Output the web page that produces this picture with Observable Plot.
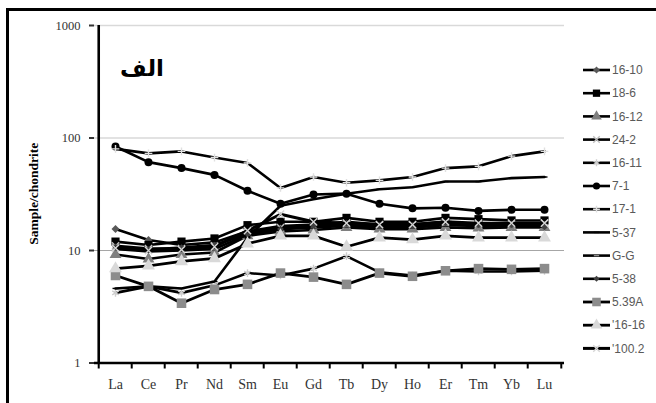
<!DOCTYPE html>
<html>
<head>
<meta charset="utf-8">
<script src="https://cdn.jsdelivr.net/npm/d3@7"></script>
<script src="https://cdn.jsdelivr.net/npm/@observablehq/plot@0.6"></script>
<style>
  body { margin: 0; background: #fff; }
  #wrap { position: relative; width: 656px; height: 403px; overflow: hidden; background: #fff; }
  #border { position: absolute; left: 6px; top: 8px; right: -10px; bottom: -10px;
            border-top: 3px solid #000; border-left: 3px solid #000; }
  #chart, #legend { position: absolute; left: 0; top: 0; }
</style>
</head>
<body>
<div id="wrap">
  <div id="border"></div>
  <div id="chart"></div>
  <svg id="legend" width="656" height="403"></svg>
</div>
<script>
// REE elements (x categories) and y-axis ticks
const elements = ["La", "Ce", "Pr", "Nd", "Sm", "Eu", "Gd", "Tb", "Dy", "Ho", "Er", "Tm", "Yb", "Lu"];
const yTicks = [1, 10, 100, 1000];
const sampleNames = ["16-10", "18-6", "16-12", "24-2", "16-11", "7-1", "17-1", "5-37", "G-G", "5-38", "5.39A", "'16-16", "'100.2"];
const panelTitle = "الف";
const yLabel = "Sample/chondrite";

// Chondrite-normalised values, one array per sample
const s16_10  = [15.5, 12.4, 11.2, 11.8, 14.8, 16.5, 17.0, 18.0, 17.0, 17.0, 18.0, 17.2, 17.2, 16.5];
const s18_6   = [12.0, 11.2, 12.0, 12.8, 16.8, 18.0, 18.0, 19.5, 18.0, 18.0, 19.5, 19.0, 18.5, 18.5];
const s16_12  = [9.2, 8.4, 9.2, 9.6, 13.5, 14.8, 15.2, 16.0, 15.5, 15.5, 16.0, 15.8, 16.0, 16.0];
const s24_2   = [11.0, 10.4, 10.4, 11.0, 14.5, 16.0, 16.8, 17.0, 16.8, 16.8, 17.5, 17.0, 17.0, 17.5];
const s16_11  = [4.2, 4.8, 4.2, 4.9, 6.3, 6.0, 6.9, 8.9, 6.4, 6.0, 6.6, 6.5, 6.5, 6.6];
const s7_1    = [84, 61, 54, 47, 34, 26, 31.5, 32, 26, 23.7, 24, 22.5, 23, 23];
const s17_1   = [80, 73, 76, 67, 60, 36, 45, 40, 42, 45, 54, 56, 69, 76];
const s5_37   = [4.6, 4.8, 4.6, 5.3, 13, 25, 28.5, 32, 35, 36.5, 41, 41, 44, 45];
const sGG     = [10.3, 9.8, 10.0, 10.3, 13.8, 15.5, 16.0, 16.5, 16.0, 16.0, 16.8, 16.5, 16.5, 16.8];
const s5_38   = [10.8, 10.2, 10.6, 11.2, 14.0, 15.5, 16.5, 17.5, 16.5, 16.5, 17.5, 17.0, 17.0, 16.2];
const s5_39A  = [6.0, 4.8, 3.4, 4.5, 5.0, 6.3, 5.8, 5.0, 6.3, 5.9, 6.6, 6.9, 6.8, 6.9];
const s16_16  = [6.9, 7.3, 8.0, 8.5, 11.5, 13.5, 13.5, 10.8, 13.0, 12.5, 13.5, 13.0, 13.0, 13.0];
const s100_2  = [10.5, 10.0, 10.2, 10.8, 15.0, 21.0, 18.0, 17.5, 17.0, 17.0, 18.0, 17.5, 17.5, 17.5];

const sampleValues = [s16_10, s18_6, s16_12, s24_2, s16_11, s7_1, s17_1, s5_37, sGG, s5_38, s5_39A, s16_16, s100_2];

// Short horizontal dash marker
const symbolDash = {
  draw(context, size) {
    const r = Math.sqrt(size / Math.PI);
    context.moveTo(-r, 0);
    context.lineTo(r, 0);
  }
};

// Marker appearance for each sample, in the same order as sampleNames
const markerStyles = [
  {symbol: d3.symbolDiamond2, fill: "#595959", stroke: "none", r: 3.6, lw: 2.6},
  {symbol: d3.symbolSquare,   fill: "#000",    stroke: "none", r: 4.6, lw: 2.6},
  {symbol: d3.symbolTriangle, fill: "#7f7f7f", stroke: "none", r: 4.4, lw: 2.6},
  {symbol: d3.symbolTimes,    fill: "none",    stroke: "#bfbfbf", r: 3.4, lw: 2.6},
  {symbol: d3.symbolAsterisk, fill: "none",    stroke: "#cfcfcf", r: 3.6, lw: 2.6},
  {symbol: d3.symbolCircle,   fill: "#000",    stroke: "none", r: 4.0, lw: 2.6},
  {symbol: d3.symbolPlus,     fill: "none",    stroke: "#e0e0e0", r: 2.6, lw: 2.6},
  {symbol: symbolDash,        fill: "none",    stroke: "#000", r: 3.0, lw: 2.6},
  {symbol: symbolDash,        fill: "none",    stroke: "#8c8c8c", r: 3.0, lw: 2.6},
  {symbol: d3.symbolDiamond2, fill: "#404040", stroke: "none", r: 3.0, lw: 2.6},
  {symbol: d3.symbolSquare,   fill: "#8c8c8c", stroke: "none", r: 5.4, lw: 2.8},
  {symbol: d3.symbolTriangle, fill: "#d9d9d9", stroke: "none", r: 4.8, lw: 2.8},
  {symbol: d3.symbolTimes,    fill: "none",    stroke: "#d6d6d6", r: 3.4, lw: 3.0}
];

const W = 656, H = 403;
const mL = 94, mR = 92, mT = 25, mB = 40.5;
const step = (W - mL - mR) / elements.length;

const seriesMarks = sampleNames.flatMap((name, k) => {
  const rows = elements.map((el, i) => ({sample: name, element: el, value: sampleValues[k][i]}));
  const st = markerStyles[k];
  return [
    Plot.line(rows, {x: "element", y: "value", stroke: "#000", strokeWidth: st.lw}),
    Plot.dot(rows, {x: "element", y: "value", symbol: st.symbol, r: st.r,
                    fill: st.fill, stroke: st.stroke, strokeWidth: 1.4})
  ];
});

const chart = Plot.plot({
  width: W,
  height: H,
  marginLeft: mL,
  marginRight: mR,
  marginTop: mT,
  marginBottom: mB,
  style: {background: "transparent", fontFamily: "'Liberation Serif', 'Times New Roman', serif"},
  x: {type: "point", domain: elements, padding: 0.5, axis: null},
  y: {type: "log", domain: [1, 1000], axis: null},
  marks: [
    // gridlines
    Plot.ruleY([100, 1000], {stroke: "#d9d9d9", strokeWidth: 1.5}),
    Plot.ruleY([10], {stroke: "#a6a6a6", strokeWidth: 1.2}),
    // y axis
    Plot.axisY({ticks: yTicks, tickFormat: d => String(d), tickSize: 5, tickPadding: 9, label: null,
                strokeWidth: 2, fontSize: 12.5, color: "#333"}),
    Plot.ruleX([elements[0]], {x: d => d, y1: 1, y2: 1000, dx: -step / 2, stroke: "#000", strokeWidth: 2.6}),
    // x axis line, tick marks between categories, labels
    Plot.ruleY([1], {stroke: "#000", strokeWidth: 2.6}),
    Plot.ruleX(elements, {x: d => d, y1: 1, y2: 1, insetBottom: -6, dx: -step / 2, stroke: "#000", strokeWidth: 2}),
    Plot.ruleX([elements[elements.length - 1]], {x: d => d, y1: 1, y2: 1, insetBottom: -6, dx: step / 2, stroke: "#000", strokeWidth: 2}),
    Plot.axisX({tickSize: 0, tickPadding: 16, fontSize: 14, label: null, color: "#333"}),
    // sample curves
    ...seriesMarks
  ]
});
document.getElementById("chart").appendChild(chart);

// Overlay: panel letter, y-axis title and legend
const overlay = d3.select("#legend");
overlay.append("text")
  .attr("x", 142).attr("y", 68).attr("dy", "0.35em").attr("text-anchor", "middle")
  .attr("font-family", "'DejaVu Sans', sans-serif").attr("font-weight", "bold").attr("font-size", 23)
  .attr("fill", "#000").text(panelTitle);
overlay.append("text")
  .attr("transform", `translate(33,${(mT + H - mB) / 2}) rotate(-90)`)
  .attr("dy", "0.35em").attr("text-anchor", "middle")
  .attr("font-family", "'Liberation Serif', 'Times New Roman', serif").attr("font-weight", "bold")
  .attr("font-size", 13.5).attr("fill", "#000").text(yLabel);

const rowY = i => 70 + i * 23.2;
sampleNames.forEach((name, i) => {
  const st = markerStyles[i];
  const g = overlay.append("g").attr("transform", `translate(0,${rowY(i)})`);
  g.append("line").attr("x1", 583).attr("x2", 610).attr("y1", 0).attr("y2", 0)
    .attr("stroke", "#000").attr("stroke-width", st.lw);
  g.append("path")
    .attr("transform", "translate(596.5,0)")
    .attr("d", d3.symbol(st.symbol, Math.PI * st.r * st.r * 0.8)())
    .attr("fill", st.fill).attr("stroke", st.stroke).attr("stroke-width", 1.4);
  g.append("text").attr("x", 612).attr("y", 0).attr("dy", "0.35em")
    .attr("font-family", "'Liberation Sans', Arial, sans-serif").attr("font-size", 12)
    .attr("fill", "#595959").text(name);
});
</script>
</body>
</html>
